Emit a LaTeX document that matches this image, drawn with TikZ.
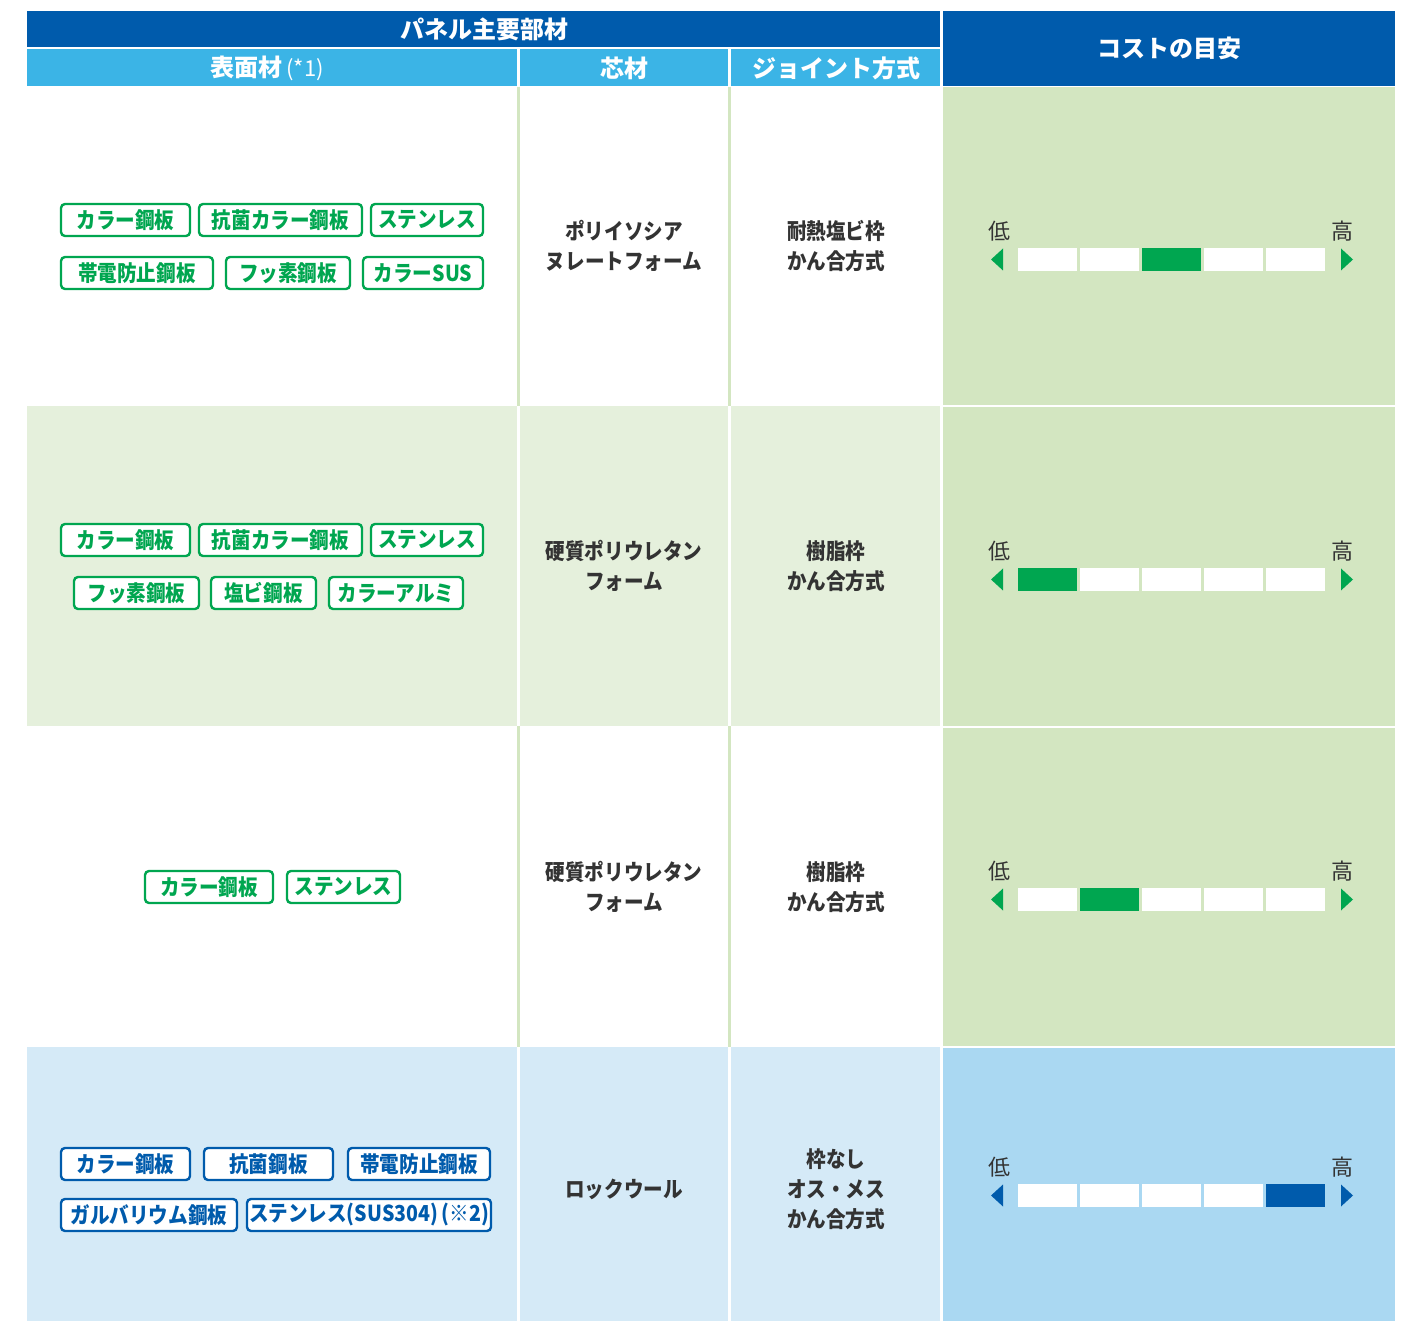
\documentclass[tikz,border=0pt]{standalone}
\usepackage{fontspec}
\setmainfont{Noto Sans CJK JP}
\newfontfamily\narrowjp[FakeStretch=0.89]{Noto Sans CJK JP}
\usepackage{xcolor}
\usetikzlibrary{calc}

\definecolor{hdblue}{HTML}{005BAC}
\definecolor{sublue}{HTML}{3BB4E6}
\definecolor{tgreen}{HTML}{00A650}
\definecolor{palegreen}{HTML}{E5F0DC}
\definecolor{costgreen}{HTML}{D3E6C1}
\definecolor{paleblue}{HTML}{D5EAF7}
\definecolor{costblue}{HTML}{AAD8F2}
\definecolor{bodytext}{HTML}{333333}

\tikzset{
  hdtext/.style={text=white, font=\bfseries\fontsize{12}{14}\selectfont, inner sep=0pt},
  cell/.style={text=bodytext, align=center, font=\narrowjp\bfseries\fontsize{11}{15}\selectfont, inner sep=0pt},
  tagbox/.style={draw=#1, text=#1, fill=white, line width=1.2pt, rounded corners=2pt,
    minimum height=16pt, inner sep=0pt, font=\narrowjp\bfseries\fontsize{11}{12}\selectfont},
  lohi/.style={text=bodytext, font=\fontsize{11}{13}\selectfont, inner sep=0pt},
}

% tag: name, x, y, width (px), colour, text
\newcommand{\mattag}[6]{\node[tagbox=#5, minimum width=#4*0.5pt] (#1) at (#2,#3) {#6};}

% cost bar: name, centre y, filled segment, colour
\newcommand{\costbar}[4]{
  \node[lohi] (#1lo) at (999,#2-28) {低};
  \node[lohi] (#1hi) at (1342,#2-28) {高};
  \fill[#4] (991,#2) -- (1003,#2-11) -- (1003,#2+11) -- cycle;
  \fill[#4] (1353,#2) -- (1341,#2-11) -- (1341,#2+11) -- cycle;
  \foreach \k in {1,...,5}{
    \pgfmathsetmacro{\xa}{1018+(\k-1)*62}
    \ifnum\k=#3
      \fill[#4] (\xa,#2-11.5) rectangle ++(59,23);
    \else
      \fill[white] (\xa,#2-11.5) rectangle ++(59,23);
    \fi
  }
}

\begin{document}
\begin{tikzpicture}[x=0.5pt, y=-0.5pt]
  \useasboundingbox (0,0) rectangle (1405,1321);

  % header
  \fill[hdblue] (27,11) rectangle (940,47);
  \fill[sublue] (27,49) rectangle (940,86);
  \fill[hdblue] (943,11) rectangle (1395,86);
  \draw[white, line width=1.5pt] (518,49) -- (518,86);
  \draw[white, line width=1.5pt] (729,49) -- (729,86);
  \node[hdtext] (main) at (484,29) {パネル主要部材};
  \node[hdtext] (face) at (267,68) {表面材\,{\mdseries\fontsize{11}{12}\selectfont(*1)}};
  \node[hdtext] (core) at (624,68) {芯材};
  \node[hdtext] (joint) at (836,68) {ジョイント方式};
  \node[hdtext] (cost) at (1169,48) {コストの目安};

  % rows
  \fill[palegreen] (27,406) rectangle (940,726);
  \fill[paleblue] (27,1047) rectangle (940,1321);
  \fill[costgreen] (943,87) rectangle (1395,405);
  \fill[costgreen] (943,407) rectangle (1395,726);
  \fill[costgreen] (943,728) rectangle (1395,1046);
  \fill[costblue] (943,1048) rectangle (1395,1321);

  % column lines
  \foreach \cx in {518,729}{
    \draw[costgreen, line width=1.5pt] (\cx,87) -- (\cx,406);
    \draw[white, line width=1.5pt] (\cx,406) -- (\cx,726);
    \draw[costgreen, line width=1.5pt] (\cx,726) -- (\cx,1047);
    \draw[white, line width=1.5pt] (\cx,1047) -- (\cx,1321);
  }

  % row 1
  \mattag{ta1}{125.5}{220}{129}{tgreen}{カラー鋼板}
  \mattag{ta2}{280.5}{220}{163}{tgreen}{抗菌カラー鋼板}
  \mattag{ta3}{427}{220}{112}{tgreen}{ステンレス}
  \mattag{ta4}{137}{273}{152}{tgreen}{帯電防止鋼板}
  \mattag{ta5}{288}{273}{124}{tgreen}{フッ素鋼板}
  \mattag{ta6}{423}{273}{120}{tgreen}{カラーSUS}
  \node[cell] (corea) at (624,246) {ポリイソシア\\ヌレートフォーム};
  \node[cell] (jointa) at (836,246) {耐熱塩ビ枠\\かん合方式};
  \costbar{ca}{259.5}{3}{tgreen}

  % row 2
  \mattag{tb1}{125.5}{540}{129}{tgreen}{カラー鋼板}
  \mattag{tb2}{280.5}{540}{163}{tgreen}{抗菌カラー鋼板}
  \mattag{tb3}{427}{540}{112}{tgreen}{ステンレス}
  \mattag{tb4}{136.5}{593}{125}{tgreen}{フッ素鋼板}
  \mattag{tb5}{263.5}{593}{105}{tgreen}{塩ビ鋼板}
  \mattag{tb6}{396}{593}{134}{tgreen}{カラーアルミ}
  \node[cell] (coreb) at (624,566) {硬質ポリウレタン\\フォーム};
  \node[cell] (jointb) at (836,566) {樹脂枠\\かん合方式};
  \costbar{cb}{579.5}{1}{tgreen}

  % row 3
  \mattag{tc1}{209}{887}{128}{tgreen}{カラー鋼板}
  \mattag{tc2}{343.5}{887}{113}{tgreen}{ステンレス}
  \node[cell] (corec) at (624,887) {硬質ポリウレタン\\フォーム};
  \node[cell] (jointc) at (836,887) {樹脂枠\\かん合方式};
  \costbar{cc}{899.5}{2}{tgreen}

  % row 4
  \mattag{td1}{125.5}{1164}{129}{hdblue}{カラー鋼板}
  \mattag{td2}{268.5}{1164}{129}{hdblue}{抗菌鋼板}
  \mattag{td3}{419}{1164}{142}{hdblue}{帯電防止鋼板}
  \mattag{td4}{149}{1215}{176}{hdblue}{ガルバリウム鋼板}
  \mattag{td5}{369}{1215}{244}{hdblue}{ステンレス(SUS304)\,(※2)}
  \node[cell] (cored) at (624,1189) {ロックウール};
  \node[cell] (jointd) at (836,1189) {枠なし\\オス・メス\\かん合方式};
  \costbar{cd}{1195.5}{5}{hdblue}
\end{tikzpicture}
\end{document}
